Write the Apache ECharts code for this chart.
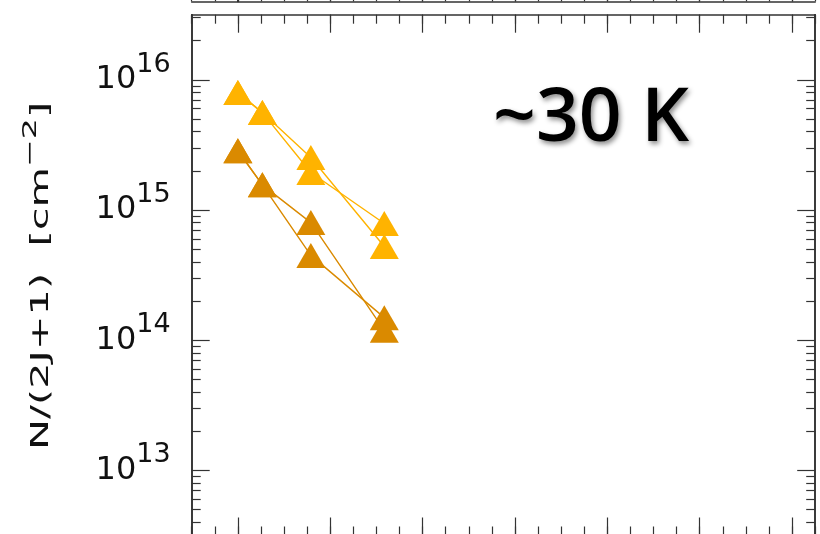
<!DOCTYPE html>
<html><head><meta charset="utf-8">
<script src="https://cdn.jsdelivr.net/npm/echarts@6/dist/echarts.min.js"></script>
<style>html,body{margin:0;padding:0;background:#fff}#c{width:820px;height:534px}</style>
</head><body><div id="c"></div>
<script>
// ---- data ----
const energies = [0, 5.3, 15.8, 31.7];
const lightA = [8.0e15, 5.6e15, 2.53e15, 5.24e14];
const lightB = [8.0e15, 5.6e15, 1.94e15, 7.87e14];
const darkA  = [2.85e15, 1.56e15, 8.0e14, 1.19e14];
const darkB  = [2.85e15, 1.56e15, 4.48e14, 1.49e14];
const xMajorTicks = [0, 20, 40, 60, 80, 100, 120];
const yMajorTicks = [1e13, 1e14, 1e15, 1e16];
const yMinorTicks = [3e12,4e12,5e12,6e12,7e12,8e12,9e12,
  2e13,3e13,4e13,5e13,6e13,7e13,8e13,9e13,
  2e14,3e14,4e14,5e14,6e14,7e14,8e14,9e14,
  2e15,3e15,4e15,5e15,6e15,7e15,8e15,9e15,
  2e16,3e16];
const labelText = '~30 K';

const yMin = Math.pow(10, 12.5), yMax = Math.pow(10, 16.5);
const lineC = '#333';
const lightC = '#FFB300', darkC = '#DA8A00';

function xAx(gridIndex, position, len, custom, showLine) {
  const a = {type: 'value', gridIndex, position, min: -10, max: 125, interval: 5,
    axisLine: {show: showLine, onZero: false, lineStyle: {color: lineC, width: 1.6}},
    axisTick: {show: true, inside: true, length: len, lineStyle: {color: lineC, width: 1.2}},
    axisLabel: {show: false}, splitLine: {show: false}};
  if (custom) a.axisTick.customValues = custom;
  return a;
}
function yAx(position, len, custom, labels) {
  const a = {type: 'log', logBase: 10, gridIndex: 0, position, min: yMin, max: yMax,
    axisLine: {show: true, onZero: false, lineStyle: {color: lineC, width: 1.6}},
    axisTick: {show: true, inside: true, length: len, customValues: custom, lineStyle: {color: lineC, width: 1.2}},
    axisLabel: {show: false}, splitLine: {show: false}, minorTick: {show: false}};
  if (labels) {
    a.axisLabel = {show: true, customValues: yMajorTicks, margin: 21, color: '#000',
      formatter: v => '{b|10}{s|' + Math.round(Math.log10(v)) + '}',
      rich: {
        b: {fontSize: 32, fontFamily: 'DejaVu Sans', lineHeight: 32, color: '#111', verticalAlign: 'middle'},
        s: {fontSize: 27, fontFamily: 'DejaVu Sans', lineHeight: 27, color: '#111', verticalAlign: 'middle', padding: [0, 0, 30, 0]}
      }};
  }
  return a;
}
function ser(name, vals, color) {
  return {type: 'line', name, xAxisIndex: 0, yAxisIndex: 0,
    data: energies.map((x, i) => [x, vals[i]]),
    symbol: 'triangle', symbolSize: [29, 25], showSymbol: true,
    itemStyle: {color}, lineStyle: {color, width: 1.4}, emphasis: {disabled: true}};
}

const chart = echarts.init(document.getElementById('c'));
chart.setOption({
  animation: false,
  backgroundColor: '#fff',
  grid: [
    {left: 191.7, top: 14.7, width: 623.5, height: 520.8, outerBoundsMode: 'none', containLabel: false},
    {left: 191.7, top: -300, width: 623.5, height: 301.4, outerBoundsMode: 'none', containLabel: false}
  ],
  xAxis: [
    xAx(0, 'bottom', 9, null, true),
    xAx(0, 'bottom', 18, xMajorTicks, false),
    xAx(0, 'top', 9, null, true),
    xAx(0, 'top', 18, xMajorTicks, false),
    xAx(1, 'bottom', 9, null, true),
    xAx(1, 'bottom', 18, xMajorTicks, false)
  ],
  yAxis: [
    yAx('left', 18, yMajorTicks, true),
    yAx('left', 9, yMinorTicks, false),
    yAx('right', 18, yMajorTicks, false),
    yAx('right', 9, yMinorTicks, false),
    {type: 'value', gridIndex: 1, position: 'left', min: 0, max: 1, axisLine: {show: true, lineStyle: {color: lineC, width: 1.6}}, axisTick: {show: false}, axisLabel: {show: false}, splitLine: {show: false}},
    {type: 'value', gridIndex: 1, position: 'right', min: 0, max: 1, axisLine: {show: true, lineStyle: {color: lineC, width: 1.6}}, axisTick: {show: false}, axisLabel: {show: false}, splitLine: {show: false}}
  ],
  series: [
    ser('light A', lightA, lightC),
    ser('light B', lightB, lightC),
    ser('dark A', darkA, darkC),
    ser('dark B', darkB, darkC)
  ],
  graphic: [
    {type: 'text', x: 591, y: 120, z: 10,
      style: {text: labelText, font: '600 75px "Open Sans"', fill: '#000', align: 'center', verticalAlign: 'middle',
        textShadowColor: 'rgba(0,0,0,0.45)', textShadowBlur: 5, textShadowOffsetX: 2, textShadowOffsetY: 3}},
    {type: 'text', x: 41, y: 276, rotation: Math.PI / 2, scaleX: 1.66, z: 10,
      style: {text: '{a|N/(2J+1)  [cm}{s|\u22122}{a|]}', fill: '#111', align: 'center', verticalAlign: 'middle',
        rich: {a: {fontSize: 25, fontFamily: 'DejaVu Sans', lineHeight: 25},
               s: {fontSize: 20, fontFamily: 'DejaVu Sans', lineHeight: 20, padding: [0, 0, 20, 0]}}}}
  ]
});
</script></body></html>
